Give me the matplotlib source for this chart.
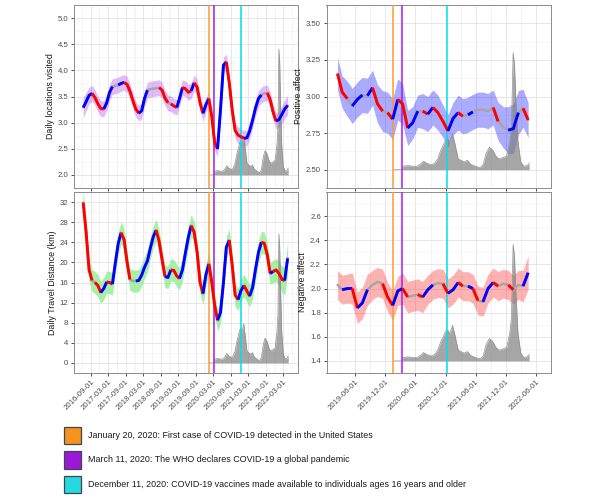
import matplotlib
matplotlib.use('Agg')
import matplotlib.pyplot as plt
import matplotlib.dates as mdates
import matplotlib.patches as mpatches
import numpy as np
import pandas as pd

plt.rcParams['font.family'] = ['Liberation Sans', 'DejaVu Sans']

# ---- data -------------------------------------------------------------
# mid-month dates of the fitted curves
left_dates = pd.date_range('2016-06-01', '2022-04-01', freq='MS') + pd.Timedelta(days=14)
right_dates = pd.date_range('2019-02-01', '2022-04-01', freq='MS') + pd.Timedelta(days=14)

# r = decreasing, b = increasing, g = no significant change
locations = [3.29, 3.40, 3.52, 3.56, 3.48, 3.36, 3.27, 3.26, 3.38, 3.57,
             3.69, 3.70, 3.72, 3.75, 3.77, 3.73, 3.60, 3.42, 3.26, 3.18,
             3.23, 3.46, 3.62, 3.64, 3.65, 3.66, 3.67, 3.62, 3.47, 3.38,
             3.36, 3.32, 3.29, 3.46, 3.67, 3.65, 3.58, 3.61, 3.76, 3.68,
             3.38, 3.18, 3.34, 3.46, 3.11, 2.62, 2.50, 3.24, 4.10, 4.16,
             3.76, 3.23, 2.85, 2.76, 2.73, 2.70, 2.71, 2.84, 3.05, 3.28,
             3.46, 3.53, 3.56, 3.57, 3.44, 3.20, 3.03, 3.06, 3.16, 3.26,
             3.33]
locations_code = "bbbrrrrbbbggbbrrrrrbbbggggrrrgrrbbrrrbrrrbbrrrbbbrrrrrrbbbbbbggrrrbbbbg"
locations_hw = [0.20, 0.18, 0.16, 0.15, 0.15, 0.15, 0.15, 0.15, 0.15, 0.15,
                0.15, 0.15, 0.15, 0.15, 0.15, 0.15, 0.15, 0.15, 0.15, 0.15,
                0.15, 0.15, 0.15, 0.15, 0.15, 0.15, 0.15, 0.15, 0.15, 0.15,
                0.15, 0.15, 0.15, 0.15, 0.15, 0.15, 0.15, 0.15, 0.15, 0.15,
                0.15, 0.15, 0.14, 0.13, 0.14, 0.15, 0.15, 0.15, 0.15, 0.15,
                0.15, 0.15, 0.16, 0.16, 0.15, 0.15, 0.15, 0.15, 0.15, 0.15,
                0.15, 0.15, 0.15, 0.15, 0.15, 0.15, 0.15, 0.16, 0.17, 0.18,
                0.19]

distance = [31.9, 26.0, 18.5, 16.4, 16.0, 15.4, 14.0, 14.8, 16.1, 16.0,
            15.7, 19.8, 23.8, 25.9, 24.5, 20.0, 16.6, 16.3, 16.3, 16.4,
            17.5, 19.0, 20.3, 22.8, 25.1, 26.4, 24.2, 20.5, 17.2, 17.0,
            18.5, 18.4, 17.3, 16.8, 18.5, 21.8, 25.0, 27.3, 26.0, 22.0,
            16.0, 13.8, 17.5, 19.7, 16.0, 11.5, 8.5, 10.0, 16.0, 23.0,
            24.4, 19.3, 13.5, 12.6, 14.4, 15.4, 14.3, 13.3, 15.0, 18.6,
            22.0, 24.0, 23.8, 21.5, 17.8, 18.2, 18.5, 17.8, 16.6, 16.4,
            20.8]
distance_code = "rrrgrrbbrrbbbrrrggbbbbbbbrrrbbrrrbbbbrrrrbbrrrbbbbrrrbbrrbbbbrrrbrrrrbb"
distance_hw = [2.6, 2.4, 2.3, 2.2, 2.2, 2.2, 2.2, 2.2, 2.2, 2.2,
               2.2, 2.2, 2.2, 2.2, 2.2, 2.2, 2.2, 2.2, 2.2, 2.2,
               2.2, 2.2, 2.2, 2.2, 2.2, 2.2, 2.2, 2.2, 2.2, 2.2,
               2.2, 2.2, 2.2, 2.2, 2.2, 2.2, 2.2, 2.2, 2.2, 2.2,
               2.2, 2.2, 2.2, 2.2, 2.2, 2.2, 2.2, 2.2, 2.2, 2.2,
               2.2, 2.2, 2.2, 2.2, 2.2, 2.2, 2.2, 2.2, 2.2, 2.2,
               2.2, 2.2, 2.2, 2.2, 2.2, 2.2, 2.3, 2.4, 2.6, 2.9,
               3.2]

positive = [3.155, 3.03, 2.985, 2.935, 2.98, 3.01, 3.005, 3.06, 2.95, 2.90,
            2.89, 2.845, 2.98, 2.95, 2.785, 2.82, 2.90, 2.90, 2.88, 2.925,
            2.89, 2.83, 2.765, 2.85, 2.89, 2.865, 2.875, 2.895, 2.91, 2.91,
            2.90, 2.925, 2.83, 2.79, 2.77, 2.78, 2.89, 2.92, 2.84]
positive_code = "rrgbbgbrrgrbrrbbgrbrrrbbrgbggggrggbbgrg"
positive_hw = [0.11, 0.11, 0.12, 0.12, 0.12, 0.12, 0.12, 0.12, 0.13, 0.14,
               0.14, 0.14, 0.14, 0.14, 0.12, 0.11, 0.11, 0.12, 0.12, 0.12,
               0.12, 0.11, 0.11, 0.11, 0.12, 0.12, 0.12, 0.12, 0.12, 0.12,
               0.12, 0.12, 0.13, 0.14, 0.16, 0.17, 0.15, 0.13, 0.12]

negative = [2.03, 1.99, 2.00, 2.00, 1.84, 1.88, 1.99, 2.03, 2.055, 2.04,
            1.93, 1.86, 1.98, 2.00, 1.93, 1.94, 1.95, 1.93, 1.99, 2.03,
            2.045, 2.04, 1.96, 1.99, 2.05, 2.02, 2.02, 2.00, 1.90, 1.89,
            2.00, 2.05, 2.02, 2.04, 2.03, 1.99, 2.03, 2.02, 2.13]
negative_code = "gbbrbbgggrrbbrggrbbggrbbrgbrgbbrggrggbb"
negative_hw = [0.12, 0.12, 0.12, 0.13, 0.13, 0.13, 0.13, 0.12, 0.12, 0.12,
               0.12, 0.12, 0.12, 0.13, 0.13, 0.13, 0.13, 0.13, 0.12, 0.12,
               0.12, 0.12, 0.12, 0.12, 0.12, 0.12, 0.12, 0.12, 0.12, 0.12,
               0.12, 0.12, 0.12, 0.12, 0.12, 0.12, 0.12, 0.13, 0.14]

# US COVID-19 cases (7-day average, thousands)
case_dates = ['2020-01-20', '2020-03-12', '2020-03-18', '2020-04-16', '2020-05-14',
              '2020-06-12', '2020-07-01', '2020-07-20', '2020-08-08', '2020-09-06',
              '2020-09-25', '2020-10-14', '2020-11-02', '2020-11-18', '2020-12-01',
              '2020-12-14', '2020-12-25', '2021-01-12', '2021-01-27', '2021-02-15',
              '2021-03-05', '2021-03-24', '2021-04-12', '2021-05-01', '2021-05-29',
              '2021-06-27', '2021-07-16', '2021-08-04', '2021-08-23', '2021-09-12',
              '2021-10-01', '2021-10-20', '2021-11-17', '2021-12-06', '2021-12-25',
              '2022-01-04', '2022-01-14', '2022-01-22', '2022-01-31', '2022-02-12',
              '2022-03-01', '2022-03-20', '2022-04-08', '2022-04-21']
cases = [0, 0, 24, 28, 24, 24, 38, 58, 44, 34,
         44, 74, 134, 170, 204, 214, 184, 244, 174, 74,
         64, 54, 64, 38, 24, 14, 34, 114, 154, 134,
         94, 74, 84, 94, 194, 300, 800, 720, 460, 194,
         54, 24, 28, 44]

event_dates = ['2020-01-20', '2020-03-11', '2020-12-11']
event_line_colors = ['#ff9a2e', '#a020f0', '#00e0ee']
event_box_colors = ['#f7931e', '#9b19d6', '#26d9e0']
event_labels = ['January 20, 2020: First case of COVID-19 detected in the United States',
                'March 11, 2020: The WHO declares COVID-19 a global pandemic',
                'December 11, 2020: COVID-19 vaccines made available to individuals ages 16 years and older']

left_ticks = pd.date_range('2016-09-01', '2022-03-01', freq='6MS')
right_ticks = pd.date_range('2019-06-01', '2022-06-01', freq='6MS')

code_colors = {'r': '#ff0000', 'b': '#0000ff'}


def draw_panel(ax, dates, vals, codes, hw, band_color, band_alpha, case_base, case_peak):
    x = mdates.date2num(dates)
    v = np.array(vals)
    h = np.array(hw)
    ax.fill_between(x, v - h, v + h, color=band_color, alpha=band_alpha, lw=0, zorder=2)

    cx = mdates.date2num(pd.to_datetime(case_dates))
    c = np.array(cases, dtype=float)
    top = case_base + c / c.max() * (case_peak - case_base)
    ax.fill_between(cx, case_base, top, color='#808080', alpha=0.7, lw=0, zorder=3)
    ax.plot(cx, top, color='#909090', lw=0.5, zorder=3)

    for d, col in zip(event_dates, event_line_colors):
        ax.axvline(mdates.date2num(pd.Timestamp(d)), color=col, lw=1.1, zorder=4)

    # full curve in grey, significant stretches coloured on top
    ax.plot(x, v, color='#a6a6a6', lw=1.8, zorder=5, solid_capstyle='round')
    n = len(vals)
    i = 0
    while i < n - 1:
        j = i
        while j + 1 < n - 1 and codes[j + 1] == codes[i]:
            j += 1
        if codes[i] != 'g':
            ax.plot(x[i:j + 2], v[i:j + 2], color=code_colors[codes[i]], lw=2.1,
                    zorder=6, solid_capstyle='butt')
        i = j + 1


def style(ax, xlim, ylim, yticks, ystep_minor, fmt, ylabel, xticks, show_x):
    ax.set_xlim(mdates.date2num(pd.to_datetime(xlim)))
    ax.set_ylim(ylim)
    ax.set_yticks(yticks)
    ax.set_yticklabels([fmt.format(t) for t in yticks])
    ax.set_yticks(np.arange(yticks[0] - ystep_minor, yticks[-1] + 2 * ystep_minor, ystep_minor), minor=True)
    xt = mdates.date2num(xticks)
    ax.set_xticks(xt)
    ax.set_xticks(np.concatenate([xt - 91.5, xt + 91.5]), minor=True)
    if show_x:
        ax.set_xticklabels([t.strftime('%Y-%m-%d') for t in xticks], rotation=45,
                           ha='right', rotation_mode='anchor')
    else:
        ax.set_xticklabels([])
    ax.grid(which='major', color='#e3e3e3', lw=0.6)
    ax.grid(which='minor', color='#f0f0f0', lw=0.4)
    ax.set_axisbelow(True)
    ax.tick_params(which='minor', length=0)
    ax.tick_params(which='major', length=2.5, color='#333333', width=0.6,
                   labelsize=5.6, labelcolor='#4d4d4d', pad=1.5)
    for s in ax.spines.values():
        s.set_color('#8c8c8c')
        s.set_linewidth(0.7)
    ax.set_ylabel(ylabel, fontsize=6.4, labelpad=2, color='#1a1a1a')


fig = plt.figure(figsize=(6, 4.97), dpi=100)
ax_tl = fig.add_axes([74 / 600, 1 - 188 / 497, 224 / 600, 183 / 497])
ax_tr = fig.add_axes([326.5 / 600, 1 - 188 / 497, 224.5 / 600, 183 / 497])
ax_bl = fig.add_axes([74 / 600, 1 - 373 / 497, 224 / 600, 181 / 497])
ax_br = fig.add_axes([326.5 / 600, 1 - 373 / 497, 224.5 / 600, 181 / 497])

draw_panel(ax_tl, left_dates, locations, locations_code, locations_hw, '#a020f0', 0.3, 2.0, 4.41)
draw_panel(ax_tr, right_dates, positive, positive_code, positive_hw, '#0000ff', 0.33, 2.5, 3.30)
draw_panel(ax_bl, left_dates, distance, distance_code, distance_hw, '#90ee90', 0.8, 0.0, 25.7)
draw_panel(ax_br, right_dates, negative, negative_code, negative_hw, '#ff0000', 0.3, 1.4, 2.365)

left_xlim = ['2016-03-11', '2022-08-01']
right_xlim = ['2018-12-10', '2022-06-20']
style(ax_tl, left_xlim, (1.855, 5.15), [2.0, 2.5, 3.0, 3.5, 4.0, 4.5, 5.0], 0.25, '{:.1f}',
      'Daily locations visited', left_ticks, False)
style(ax_tr, right_xlim, (2.452, 3.55), [2.5, 2.75, 3.0, 3.25, 3.5], 0.125, '{:.2f}',
      'Positive affect', right_ticks, False)
style(ax_bl, left_xlim, (-1.2, 33.5), [0, 4, 8, 12, 16, 20, 24, 28, 32], 2, '{:d}',
      'Daily Travel Distance (km)', left_ticks, True)
style(ax_br, right_xlim, (1.355, 2.658), [1.4, 1.6, 1.8, 2.0, 2.2, 2.4, 2.6], 0.1, '{:.1f}',
      'Negative affect', right_ticks, True)

# legend of the events
for i, (lab, col) in enumerate(zip(event_labels, event_box_colors)):
    yc = 1 - (435.5 + 24.4 * i) / 497
    fig.patches.append(mpatches.Rectangle((63.5 / 600, yc - 8.8 / 497), 17 / 600, 17.6 / 497,
                                          transform=fig.transFigure, facecolor=col,
                                          edgecolor='#3a4652', lw=0.9))
    fig.text(87.5 / 600, yc, lab, fontsize=6.4, va='center', ha='left', color='#1a1a1a')

fig.savefig('out.png', dpi=100)
